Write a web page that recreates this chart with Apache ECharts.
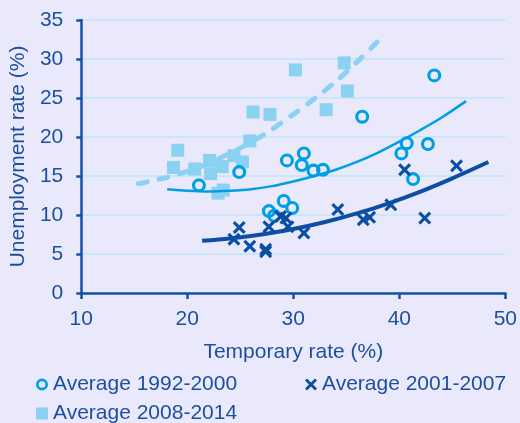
<!DOCTYPE html>
<html>
<head>
<meta charset="utf-8">
<script src="https://cdn.jsdelivr.net/npm/echarts@6/dist/echarts.min.js"></script>
<style>
  html, body { margin: 0; padding: 0; background: #e9e9fb; }
  #chart { width: 520px; height: 423px; }
</style>
</head>
<body>
<div id="chart"></div>
<script>
// Temporary employment rate (%) vs unemployment rate (%), per country
const temp9200  = [21.1, 24.9, 27.7, 28.2, 29.1, 29.9, 29.4, 30.8, 31.0, 31.9, 32.8, 36.5, 40.2, 40.7, 41.3, 42.7, 43.3];
const unemp9200 = [13.8, 15.5, 10.5,  9.9, 11.8, 10.9, 17.0, 16.4, 17.9, 15.7, 15.8, 22.6, 17.9, 19.2, 14.6, 19.1, 27.9];

const temp0107  = [24.4, 24.9, 25.9, 27.4, 27.4, 27.7, 28.8, 29.3, 29.5, 31.0, 34.2, 36.6, 37.2, 39.2, 40.5, 42.4, 45.4];
const unemp0107 = [ 6.9,  8.4,  6.0,  5.6,  5.3,  8.5,  9.8,  9.6,  8.5,  7.7, 10.7,  9.4,  9.7, 11.3, 15.8,  9.6, 16.3];

const temp0814  = [19.1, 18.7, 20.7, 22.1, 22.2, 23.3, 24.4, 25.2, 25.9, 22.9, 23.4, 26.2, 27.8, 30.2, 33.1, 34.8, 35.1];
const unemp0814 = [18.3, 16.1, 15.9, 17.0, 15.3, 16.2, 17.6, 16.8, 19.5, 12.8, 13.2, 23.2, 22.9, 28.6, 23.5, 29.5, 25.9];

// Trend curves
const trend9200X = [18.1, 20, 22, 24, 26, 28, 30, 32, 34, 36, 38, 40, 42, 44, 46.3];
const trend9200Y = [13.3, 13.1, 13.0, 13.1, 13.3, 13.7, 14.3, 15.0, 15.8, 16.8, 18.0, 19.4, 20.9, 22.5, 24.6];
const trend0107X = [21.4, 24, 27, 30, 33, 36, 39, 42, 45, 48.4];
const trend0107Y = [6.7, 7.0, 7.5, 8.2, 9.1, 10.2, 11.5, 13.0, 14.7, 16.8];
const trend0814X = [15.4, 18, 20, 22, 24, 26, 28, 30, 32, 34, 36, 38.3];
const trend0814Y = [14.0, 14.8, 15.6, 16.6, 17.9, 19.3, 21.0, 22.9, 24.9, 27.1, 29.6, 32.7];

const seriesNames = ['Average 1992-2000', 'Average 2001-2007', 'Average 2008-2014'];

const zip = (xs, ys) => xs.map((x, i) => [x, ys[i]]);

const C_CIRCLE = '#009fe3';
const C_CROSS  = '#0c4ea4';
const C_SQUARE = '#8bd1f2';
const C_TEXT   = '#1d4f9f';
const C_AXIS   = '#1550a8';
const C_GRID   = '#bde6f8';
const FONT = 'Liberation Sans, Arial, sans-serif';
const FS = 21;

// Hollow ring and thick "x" marker shapes
const ringPath = 'path://M0,6.5 A6.5,6.5 0 1,0 13,6.5 A6.5,6.5 0 1,0 0,6.5 Z M2.9,6.5 A3.6,3.6 0 1,1 10.1,6.5 A3.6,3.6 0 1,1 2.9,6.5 Z';
const crossPath = 'path://M1.7,0 L5,3.3 L8.3,0 L10,1.7 L6.7,5 L10,8.3 L8.3,10 L5,6.7 L1.7,10 L0,8.3 L3.3,5 L0,1.7 Z';

const legendBase = {
  selectedMode: false,
  itemWidth: 12,
  itemHeight: 12,
  itemGap: 0,
  padding: 0,
  textStyle: { fontSize: FS, color: C_TEXT, fontFamily: FONT, padding: [0, 0, 0, 0] }
};

const chart = echarts.init(document.getElementById('chart'), null, { renderer: 'canvas' });

chart.setOption({
  backgroundColor: '#e9e9fb',
  animation: false,
  textStyle: { fontFamily: FONT },
  grid: { left: 80, right: 13, top: 20, bottom: 130 },
  legend: [
    Object.assign({}, legendBase, { left: 36, top: 374, data: [{ name: seriesNames[0], icon: ringPath }] }),
    Object.assign({}, legendBase, { left: 305, top: 374, data: [{ name: seriesNames[1], icon: crossPath }] }),
    Object.assign({}, legendBase, { left: 36, top: 403, data: [{ name: seriesNames[2], icon: 'rect' }] })
  ],
  xAxis: {
    type: 'value',
    min: 10, max: 50, interval: 10,
    name: 'Temporary rate (%)',
    nameLocation: 'middle',
    nameGap: 49,
    nameTextStyle: { fontSize: FS, color: C_TEXT, fontFamily: FONT },
    axisLine: { show: true, lineStyle: { color: C_AXIS, width: 2.5 } },
    axisTick: { show: true, length: 6, lineStyle: { color: C_AXIS, width: 2.5 } },
    axisLabel: { fontSize: FS, color: C_TEXT, margin: 16, fontFamily: FONT },
    splitLine: { show: false }
  },
  yAxis: {
    type: 'value',
    min: 0, max: 35, interval: 5,
    name: 'Unemployment rate (%)',
    nameLocation: 'middle',
    nameRotate: 90,
    nameGap: 47,
    nameTextStyle: { fontSize: FS, color: C_TEXT, fontFamily: FONT },
    axisLine: { show: true, lineStyle: { color: C_AXIS, width: 2.5 } },
    axisTick: { show: true, length: 5, lineStyle: { color: C_AXIS, width: 2.5 } },
    axisLabel: { fontSize: FS, color: C_TEXT, margin: 18, fontFamily: FONT },
    splitLine: { show: true, lineStyle: { color: C_GRID, width: 1.5 } }
  },
  series: [
    {
      name: seriesNames[2],
      type: 'scatter',
      symbol: 'rect',
      symbolSize: 13,
      itemStyle: { color: C_SQUARE, opacity: 1 },
      data: zip(temp0814, unemp0814),
      z: 2
    },
    {
      name: seriesNames[0],
      type: 'scatter',
      symbol: ringPath,
      symbolSize: 14,
      itemStyle: { color: C_CIRCLE, opacity: 1 },
      data: zip(temp9200, unemp9200),
      z: 3
    },
    {
      name: seriesNames[1],
      type: 'scatter',
      symbol: crossPath,
      symbolSize: 13,
      itemStyle: { color: C_CROSS, opacity: 1 },
      data: zip(temp0107, unemp0107),
      z: 4
    },
    {
      name: 'Trend 2008-2014',
      type: 'line',
      smooth: 0.3,
      showSymbol: false,
      symbol: 'none',
      lineStyle: { color: C_SQUARE, width: 5, type: [9, 12], cap: 'round' },
      data: zip(trend0814X, trend0814Y),
      z: 5
    },
    {
      name: 'Trend 1992-2000',
      type: 'line',
      smooth: 0.3,
      showSymbol: false,
      symbol: 'none',
      lineStyle: { color: C_CIRCLE, width: 2.5 },
      data: zip(trend9200X, trend9200Y),
      z: 5
    },
    {
      name: 'Trend 2001-2007',
      type: 'line',
      smooth: 0.3,
      showSymbol: false,
      symbol: 'none',
      lineStyle: { color: C_CROSS, width: 4 },
      data: zip(trend0107X, trend0107Y),
      z: 5
    }
  ]
});
</script>
</body>
</html>
